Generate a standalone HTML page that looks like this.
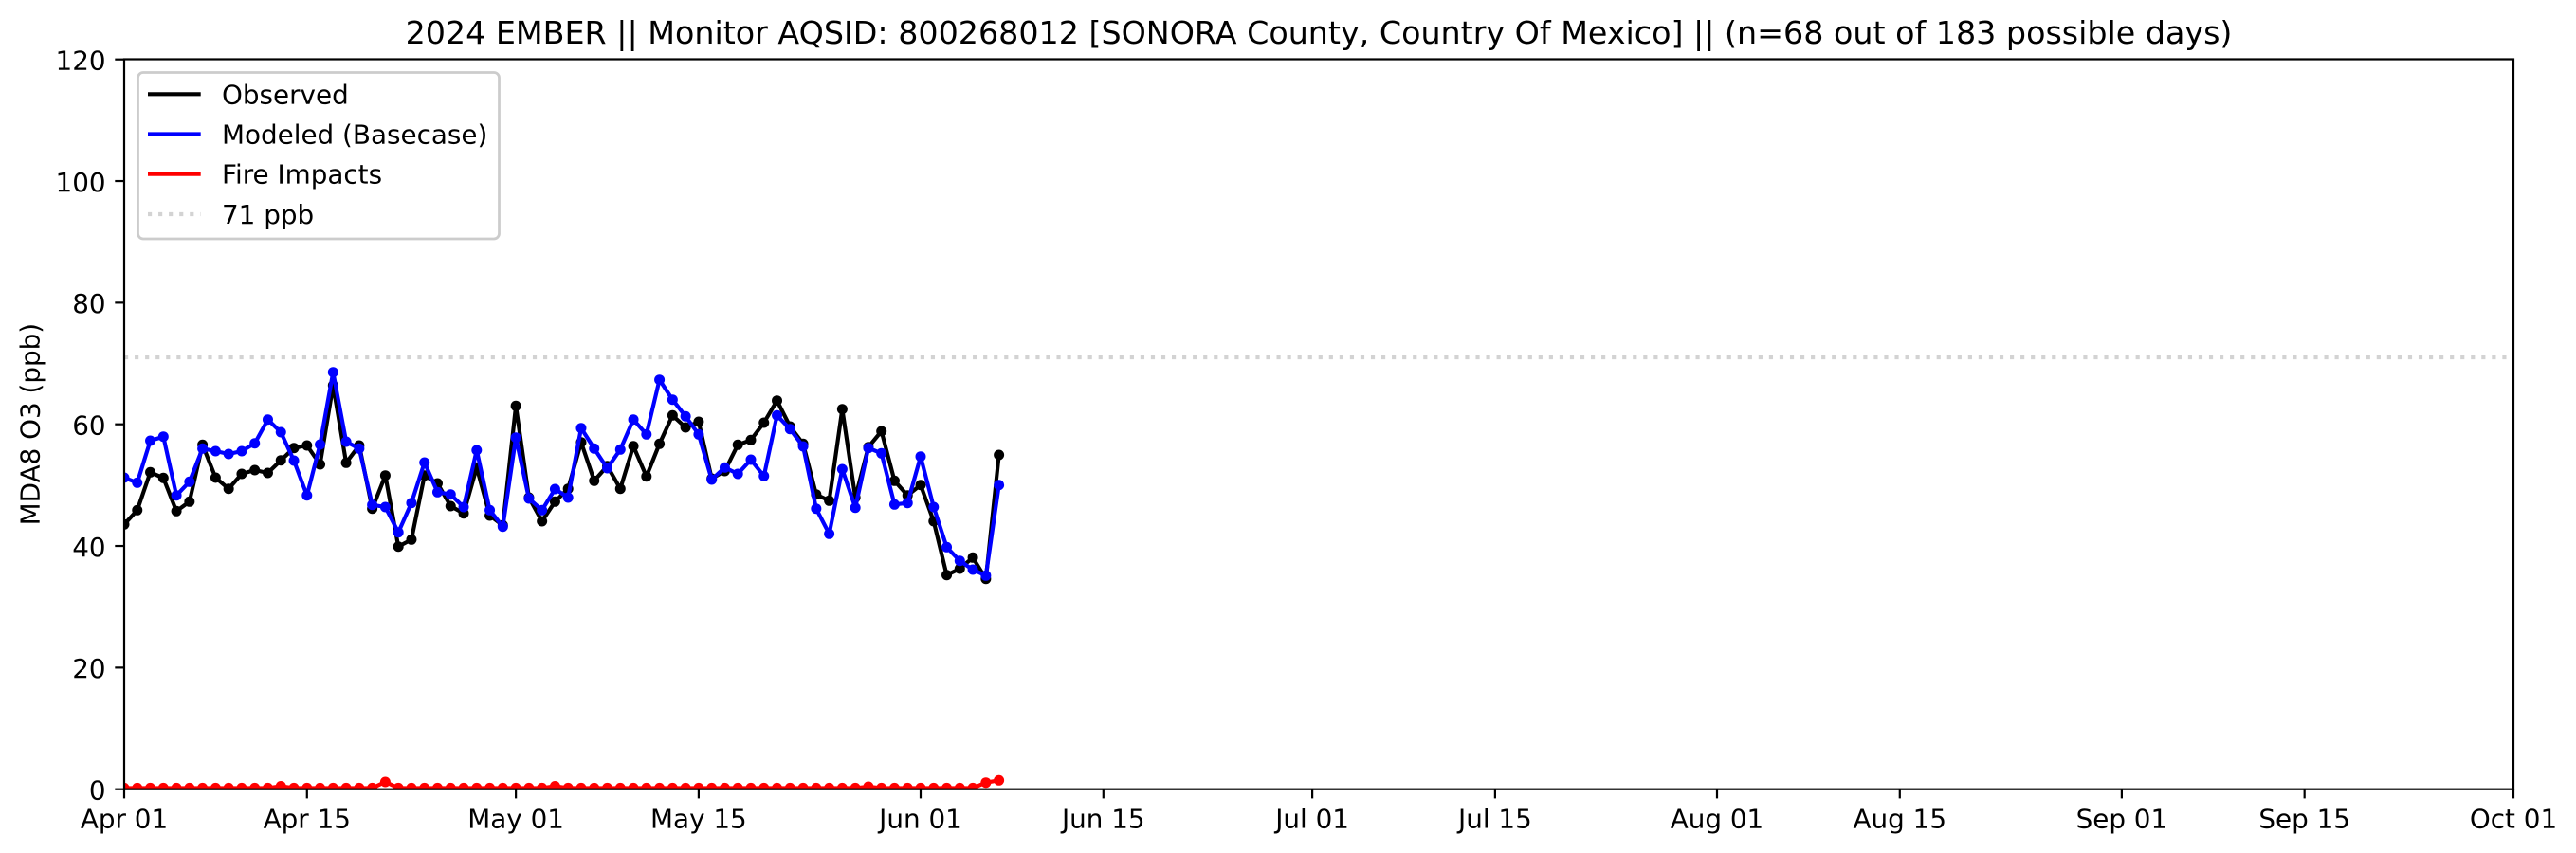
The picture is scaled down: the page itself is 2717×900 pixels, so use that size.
<!DOCTYPE html>
<html>
<head>
<meta charset="utf-8">
<style>
html,body{margin:0;padding:0;background:#fff;}
svg{display:block;}
text{font-family:"DejaVu Sans","Liberation Sans",sans-serif;fill:#000;}
</style>
</head>
<body>
<svg width="2717" height="900" viewBox="0 0 2717 900" xmlns="http://www.w3.org/2000/svg">
<defs>
<clipPath id="ax"><rect x="131" y="62.5" width="2520" height="770.2"/></clipPath>
<marker id="mk" markerWidth="14" markerHeight="14" refX="7" refY="7" markerUnits="userSpaceOnUse"><circle cx="7" cy="7" r="5.5" fill="#000"/></marker>
<marker id="mb" markerWidth="14" markerHeight="14" refX="7" refY="7" markerUnits="userSpaceOnUse"><circle cx="7" cy="7" r="5.5" fill="#0000ff"/></marker>
<marker id="mr" markerWidth="14" markerHeight="14" refX="7" refY="7" markerUnits="userSpaceOnUse"><circle cx="7" cy="7" r="5.5" fill="#ff0000"/></marker>
</defs>
<rect x="0" y="0" width="2717" height="900" fill="#fff"/>

<!-- title -->
<text x="1391" y="45.8" font-size="33.3" text-anchor="middle">2024 EMBER || Monitor AQSID: 800268012 [SONORA County, Country Of Mexico] || (n=68 out of 183 possible days)</text>

<g clip-path="url(#ax)">
<!-- 71 ppb line -->
<line x1="131" y1="377.1" x2="2651" y2="377.1" stroke="#d3d3d3" stroke-width="4.17" stroke-dasharray="4.17 6.88"/>

<!-- Observed -->
<polyline fill="none" stroke="#000" stroke-width="4.17" stroke-linejoin="round" marker-start="url(#mk)" marker-mid="url(#mk)" marker-end="url(#mk)" points="131,553.3 144.77,538.3 158.54,498.3 172.31,504.3 186.08,539.3 199.85,529.3 213.62,469.3 227.39,504 241.16,515.7 254.93,500 268.71,496 282.48,499 296.25,485.7 310.02,472.7 323.79,470 337.56,490 351.33,406.7 365.1,488.3 378.87,470 392.64,536.7 406.41,501.7 420.18,576.7 433.95,569.3 447.72,501.7 461.49,510 475.26,534 489.03,541.7 502.8,493.3 516.57,544 530.34,554.3 544.12,428.3 557.89,525 571.66,550 585.43,529.3 599.2,515.7 612.97,466.7 626.74,507.3 640.51,491.7 654.28,515.7 668.05,470.7 681.82,502.7 695.59,468.3 709.36,438.3 723.13,451 736.9,445 750.67,505 764.44,497 778.21,469.3 791.98,464.3 805.75,446 819.53,422.7 833.3,450 847.07,468.3 860.84,521.7 874.61,528.3 888.38,431.7 902.15,525 915.92,471.7 929.69,455 943.46,507.3 957.23,522.7 971,511.7 984.77,550 998.54,606.7 1012.31,600 1026.08,588.3 1039.85,610.7 1053.62,480"/>

<!-- Modeled -->
<polyline fill="none" stroke="#0000ff" stroke-width="4.17" stroke-linejoin="round" marker-start="url(#mb)" marker-mid="url(#mb)" marker-end="url(#mb)" points="131,504 144.77,509.3 158.54,465 172.31,460.7 186.08,522.7 199.85,508.3 213.62,473.3 227.39,476 241.16,479 254.93,476 268.71,467.7 282.48,442.7 296.25,456 310.02,486 323.79,522.7 337.56,469 351.33,392.7 365.1,466 378.87,473.3 392.64,532.7 406.41,535 420.18,561.7 433.95,530.7 447.72,488 461.49,519.3 475.26,521.7 489.03,535 502.8,475 516.57,538.3 530.34,555.7 544.12,461.7 557.89,526 571.66,538.3 585.43,516 599.2,525 612.97,451.7 626.74,473.3 640.51,494 654.28,474.3 668.05,442.7 681.82,458.3 695.59,400.7 709.36,421.7 723.13,439.3 736.9,458.3 750.67,506 764.44,493.3 778.21,500 791.98,485 805.75,502.3 819.53,438.3 833.3,452.7 847.07,471 860.84,536.7 874.61,563.3 888.38,495 902.15,535.7 915.92,472.7 929.69,478.3 943.46,532.3 957.23,530.7 971,481.7 984.77,535 998.54,577.3 1012.31,591.7 1026.08,601 1039.85,607.3 1053.62,511.7"/>

<!-- Fire impacts -->
<polyline fill="none" stroke="#ff0000" stroke-width="4.17" stroke-linejoin="round" marker-start="url(#mr)" marker-mid="url(#mr)" marker-end="url(#mr)" points="131,831.4 144.77,831.4 158.54,831.4 172.31,831.4 186.08,831.4 199.85,831.4 213.62,831.4 227.39,831.4 241.16,831.4 254.93,831.4 268.71,831.4 282.48,831.4 296.25,829.5 310.02,831.4 323.79,831.4 337.56,831.4 351.33,831.4 365.1,831.4 378.87,831.4 392.64,831.4 406.41,825 420.18,831.4 433.95,831.4 447.72,831.4 461.49,831.4 475.26,831.4 489.03,831.4 502.8,831.4 516.57,831.4 530.34,831.4 544.12,831.4 557.89,831.4 571.66,831.4 585.43,829.5 599.2,831.4 612.97,831.4 626.74,831.4 640.51,831.4 654.28,831.4 668.05,831.4 681.82,831.4 695.59,831.4 709.36,831.4 723.13,831.4 736.9,831.4 750.67,831.4 764.44,831.4 778.21,831.4 791.98,831.4 805.75,831.4 819.53,831.4 833.3,831.4 847.07,831.4 860.84,831.4 874.61,831.4 888.38,831.4 902.15,831.4 915.92,830 929.69,831.4 943.46,831.4 957.23,831.4 971,831.4 984.77,831.4 998.54,831.4 1012.31,831.4 1026.08,831.4 1039.85,825.7 1053.62,823.3"/>
</g>

<!-- spines -->
<rect x="131" y="62.5" width="2520" height="770.2" fill="none" stroke="#000" stroke-width="2.2"/>

<!-- y ticks -->
<g stroke="#000" stroke-width="2.2">
<line x1="121.3" y1="832.7" x2="131" y2="832.7"/>
<line x1="121.3" y1="704.37" x2="131" y2="704.37"/>
<line x1="121.3" y1="576.03" x2="131" y2="576.03"/>
<line x1="121.3" y1="447.7" x2="131" y2="447.7"/>
<line x1="121.3" y1="319.37" x2="131" y2="319.37"/>
<line x1="121.3" y1="191.03" x2="131" y2="191.03"/>
<line x1="121.3" y1="62.7" x2="131" y2="62.7"/>
</g>
<g font-size="27.8" text-anchor="end">
<text x="111.6" y="843.4">0</text>
<text x="111.6" y="715.1">20</text>
<text x="111.6" y="586.8">40</text>
<text x="111.6" y="458.4">60</text>
<text x="111.6" y="330.1">80</text>
<text x="111.6" y="201.8">100</text>
<text x="111.6" y="73.4">120</text>
</g>

<!-- x ticks -->
<g stroke="#000" stroke-width="2.2">
<line x1="131" y1="832.7" x2="131" y2="842.4"/>
<line x1="323.79" y1="832.7" x2="323.79" y2="842.4"/>
<line x1="544.12" y1="832.7" x2="544.12" y2="842.4"/>
<line x1="736.9" y1="832.7" x2="736.9" y2="842.4"/>
<line x1="971" y1="832.7" x2="971" y2="842.4"/>
<line x1="1163.79" y1="832.7" x2="1163.79" y2="842.4"/>
<line x1="1384.11" y1="832.7" x2="1384.11" y2="842.4"/>
<line x1="1576.9" y1="832.7" x2="1576.9" y2="842.4"/>
<line x1="1811" y1="832.7" x2="1811" y2="842.4"/>
<line x1="2003.79" y1="832.7" x2="2003.79" y2="842.4"/>
<line x1="2237.89" y1="832.7" x2="2237.89" y2="842.4"/>
<line x1="2430.67" y1="832.7" x2="2430.67" y2="842.4"/>
<line x1="2651" y1="832.7" x2="2651" y2="842.4"/>
</g>
<g font-size="27.8" text-anchor="middle">
<text x="131" y="873.5">Apr 01</text>
<text x="323.79" y="873.5">Apr 15</text>
<text x="544.12" y="873.5">May 01</text>
<text x="736.9" y="873.5">May 15</text>
<text x="971" y="873.5">Jun 01</text>
<text x="1163.79" y="873.5">Jun 15</text>
<text x="1384.11" y="873.5">Jul 01</text>
<text x="1576.9" y="873.5">Jul 15</text>
<text x="1811" y="873.5">Aug 01</text>
<text x="2003.79" y="873.5">Aug 15</text>
<text x="2237.89" y="873.5">Sep 01</text>
<text x="2430.67" y="873.5">Sep 15</text>
<text x="2651" y="873.5">Oct 01</text>
</g>

<!-- y label -->
<text transform="translate(41.5,447.6) rotate(-90)" font-size="27.8" text-anchor="middle">MDA8 O3 (ppb)</text>

<!-- legend -->
<rect x="145.5" y="76.5" width="381" height="175.5" rx="5.6" ry="5.6" fill="#fff" fill-opacity="0.8" stroke="#cccccc" stroke-width="2.78"/>
<line x1="156" y1="99.3" x2="211.7" y2="99.3" stroke="#000" stroke-width="4.17"/>
<line x1="156" y1="141.5" x2="211.7" y2="141.5" stroke="#0000ff" stroke-width="4.17"/>
<line x1="156" y1="183.7" x2="211.7" y2="183.7" stroke="#ff0000" stroke-width="4.17"/>
<line x1="156" y1="226" x2="211.7" y2="226" stroke="#d3d3d3" stroke-width="4.17" stroke-dasharray="4.17 6.88"/>
<g font-size="27.8">
<text x="234" y="109.3">Observed</text>
<text x="234" y="151.5">Modeled (Basecase)</text>
<text x="234" y="193.7">Fire Impacts</text>
<text x="234" y="236">71 ppb</text>
</g>
</svg>
</body>
</html>
